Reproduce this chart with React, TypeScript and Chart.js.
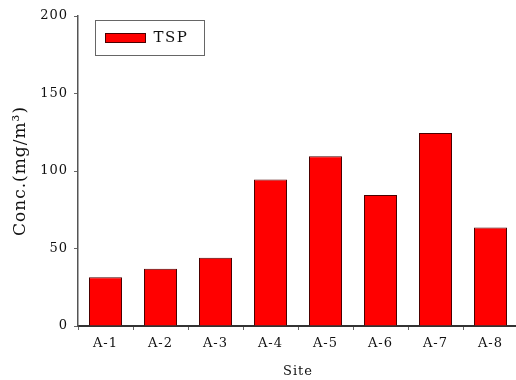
import React, { useEffect, useRef } from "react";
import { Chart, registerables } from "chart.js";

Chart.register(...registerables);

const categories = ["A-1", "A-2", "A-3", "A-4", "A-5", "A-6", "A-7", "A-8"];
const tspValues = [31.5, 37, 44, 94.5, 109.5, 84.5, 124.5, 63.5];
const seriesLabel = "TSP";
const yTitle = "Conc.(mg/m³)";
const xTitle = "Site";

const FONT = "'DejaVu Serif', 'Liberation Serif', serif";

const spacingPlugin = {
  id: "spacing",
  beforeDraw(chart: any) {
    (chart.ctx as any).letterSpacing = "1px";
  },
  afterDraw(chart: any) {
    (chart.ctx as any).letterSpacing = "0px";
  },
};

const legendBoxPlugin = {
  id: "legendBox",
  afterDraw(chart: any) {
    const ctx = chart.ctx;
    const area = chart.chartArea;
    const ds = chart.data.datasets[0];
    const x0 = area.left + 17.5;
    const y0 = area.top + 4.5;
    ctx.save();
    (ctx as any).letterSpacing = "1.5px";
    ctx.strokeStyle = "#666";
    ctx.lineWidth = 1;
    ctx.strokeRect(x0, y0, 109, 35);
    ctx.fillStyle = ds.backgroundColor;
    ctx.fillRect(x0 + 10, y0 + 13, 40, 9);
    ctx.strokeStyle = "#4a0000";
    ctx.strokeRect(x0 + 10, y0 + 13, 40, 9);
    ctx.fillStyle = "#111";
    ctx.font = "15px " + FONT;
    ctx.textBaseline = "middle";
    ctx.textAlign = "left";
    ctx.fillText(ds.label, x0 + 58, y0 + 18);
    ctx.restore();
  },
};

export default function App() {
  const ref = useRef<HTMLCanvasElement>(null);
  useEffect(() => {
    if (!ref.current) return;
    const chart = new Chart(ref.current, {
      type: "bar",
      data: {
        labels: categories,
        datasets: [
          {
            label: seriesLabel,
            data: tspValues,
            backgroundColor: "#ff0000",
            borderColor: "#4a0000",
            borderWidth: 1,
            barPercentage: 0.6,
            categoryPercentage: 1,
          },
        ],
      },
      options: {
        responsive: false,
        animation: false,
        layout: { padding: { top: 16, right: 2, left: 0, bottom: 0 } },
        plugins: { legend: { display: false }, tooltip: { enabled: false } },
        scales: {
          x: {
            afterFit: (s: any) => {
              s.height = 54;
            },
            grid: {
              drawOnChartArea: false,
              drawTicks: true,
              tickLength: 4,
              color: "#666",
            },
            border: { color: "#333", width: 2 },
            ticks: {
              color: "#111",
              padding: 6,
              font: { family: FONT, size: 13 },
            },
            title: {
              display: true,
              text: xTitle,
              color: "#111",
              font: { family: FONT, size: 13 },
              padding: { top: 0, bottom: 1 },
            },
          },
          y: {
            min: 0,
            max: 200,
            afterFit: (s: any) => {
              s.width = 78;
            },
            grid: {
              drawOnChartArea: false,
              drawTicks: true,
              tickLength: 4,
              color: "#666",
            },
            border: { color: "#555", width: 1.5 },
            ticks: {
              stepSize: 50,
              color: "#111",
              padding: 6,
              font: { family: FONT, size: 13 },
            },
            title: {
              display: true,
              text: yTitle,
              color: "#111",
              font: { family: FONT, size: 17 },
              padding: { top: 10, bottom: 0 },
            },
          },
        },
      },
      plugins: [spacingPlugin, legendBoxPlugin],
    });
    return () => chart.destroy();
  }, []);
  return (
    <div
      style={{
        position: "fixed",
        left: 0,
        top: 0,
        width: 516,
        height: 380,
        overflow: "hidden",
        background: "#fff",
      }}
    >
      <canvas ref={ref} width={520} height={380} style={{ width: 520, height: 380 }} />
    </div>
  );
}
